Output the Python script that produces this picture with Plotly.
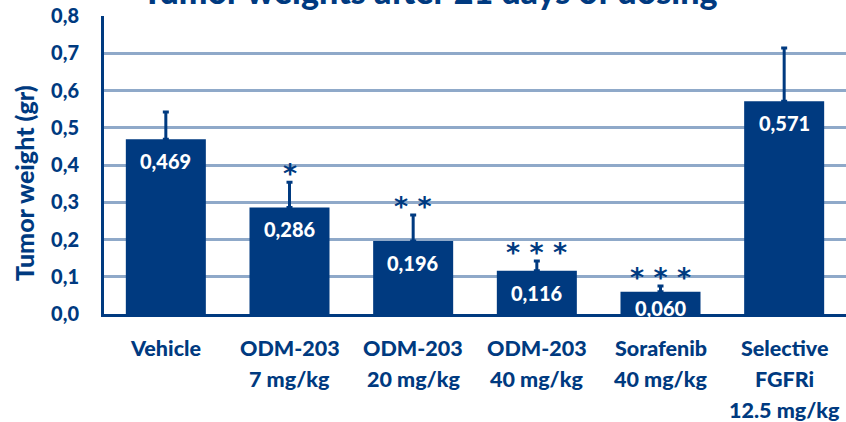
import plotly.graph_objects as go

categories = ["Vehicle", "ODM-203 7 mg/kg", "ODM-203 20 mg/kg", "ODM-203 40 mg/kg",
              "Sorafenib 40 mg/kg", "Selective FGFRi 12.5 mg/kg"]
label_lines = [["Vehicle"], ["ODM-203", "7 mg/kg"], ["ODM-203", "20 mg/kg"],
               ["ODM-203", "40 mg/kg"], ["Sorafenib", "40 mg/kg"],
               ["Selective", "FGFRi", "12.5 mg/kg"]]
values = [0.469, 0.286, 0.196, 0.116, 0.060, 0.571]
errors = [0.073, 0.068, 0.070, 0.026, 0.015, 0.143]
significance = ["", "*", "**", "***", "***", ""]
value_labels = ["0,469", "0,286", "0,196", "0,116", "0,060", "0,571"]
y_ticks = [0.0, 0.1, 0.2, 0.3, 0.4, 0.5, 0.6, 0.7, 0.8]
y_tick_text = ["0,0", "0,1", "0,2", "0,3", "0,4", "0,5", "0,6", "0,7", "0,8"]

NAVY = "#003A80"
GRID = "#8FA9C9"
FONT = "Lato"

x = list(range(len(categories)))

fig = go.Figure()
fig.add_trace(go.Bar(
    x=x, y=values, marker=dict(color=NAVY, line=dict(width=0)),
    error_y=dict(type="data", array=errors, symmetric=False,
                 arrayminus=[0] * len(errors), color=NAVY, thickness=3, width=3),
    hoverinfo="skip",
))

annotations = []
for i, v in enumerate(values):
    px_h = v * 373
    off = -22 if px_h > 40 else -16
    annotations.append(dict(x=i, y=v, xref="x", yref="y", text=value_labels[i],
                            showarrow=False, yanchor="middle", yshift=off,
                            font=dict(family=FONT, size=20, color="white", weight=900)))
    if significance[i]:
        annotations.append(dict(x=i, y=v + errors[i], xref="x", yref="y",
                                text=" ".join(significance[i]), showarrow=False,
                                yanchor="bottom", yshift=-9,
                                font=dict(family="DejaVu Sans", size=27, color=NAVY, weight="bold")))
    for j, line in enumerate(label_lines[i]):
        annotations.append(dict(x=i, y=0, xref="x", yref="paper", text=line,
                                showarrow=False, yanchor="middle", yshift=-34 - 31 * j,
                                font=dict(family=FONT, size=21.5, color=NAVY, weight=900)))

annotations.append(dict(x=0.439, y=1, xref="paper", yref="paper",
                        text="Tumor weights after 21 days of dosing", showarrow=False,
                        yanchor="bottom", yshift=3, xanchor="center",
                        font=dict(family=FONT, size=34, color=NAVY, weight=900)))
annotations.append(dict(x=0, y=0.5, xref="paper", yref="paper",
                        text="Tumor weight (gr)", showarrow=False, textangle=-90,
                        xanchor="center", yanchor="middle", xshift=-80, yshift=-18,
                        font=dict(family=FONT, size=25, color=NAVY, weight=900)))

fig.update_layout(
    width=846, height=422,
    margin=dict(l=104, r=0, t=16, b=108, autoexpand=False),
    plot_bgcolor="white", paper_bgcolor="white",
    bargap=0.353, showlegend=False,
    annotations=annotations,
    xaxis=dict(range=[-0.5, 5.5], showticklabels=False, showgrid=False, automargin=False,
               showline=True, linecolor=NAVY, linewidth=3, ticks="", zeroline=False),
    yaxis=dict(range=[0, 0.8], tickvals=y_ticks, ticktext=y_tick_text, automargin=False,
               showgrid=True, gridcolor=GRID, gridwidth=3,
               showline=True, linecolor=NAVY, linewidth=3, zeroline=False,
               ticks="", ticklen=0, ticklabelstandoff=18,
               tickfont=dict(family=FONT, size=20, color=NAVY, weight=900)),
)

fig.write_html("out.html", config={"displayModeBar": False},
               post_script="document.body.style.margin='0';document.body.style.overflow='hidden';")
